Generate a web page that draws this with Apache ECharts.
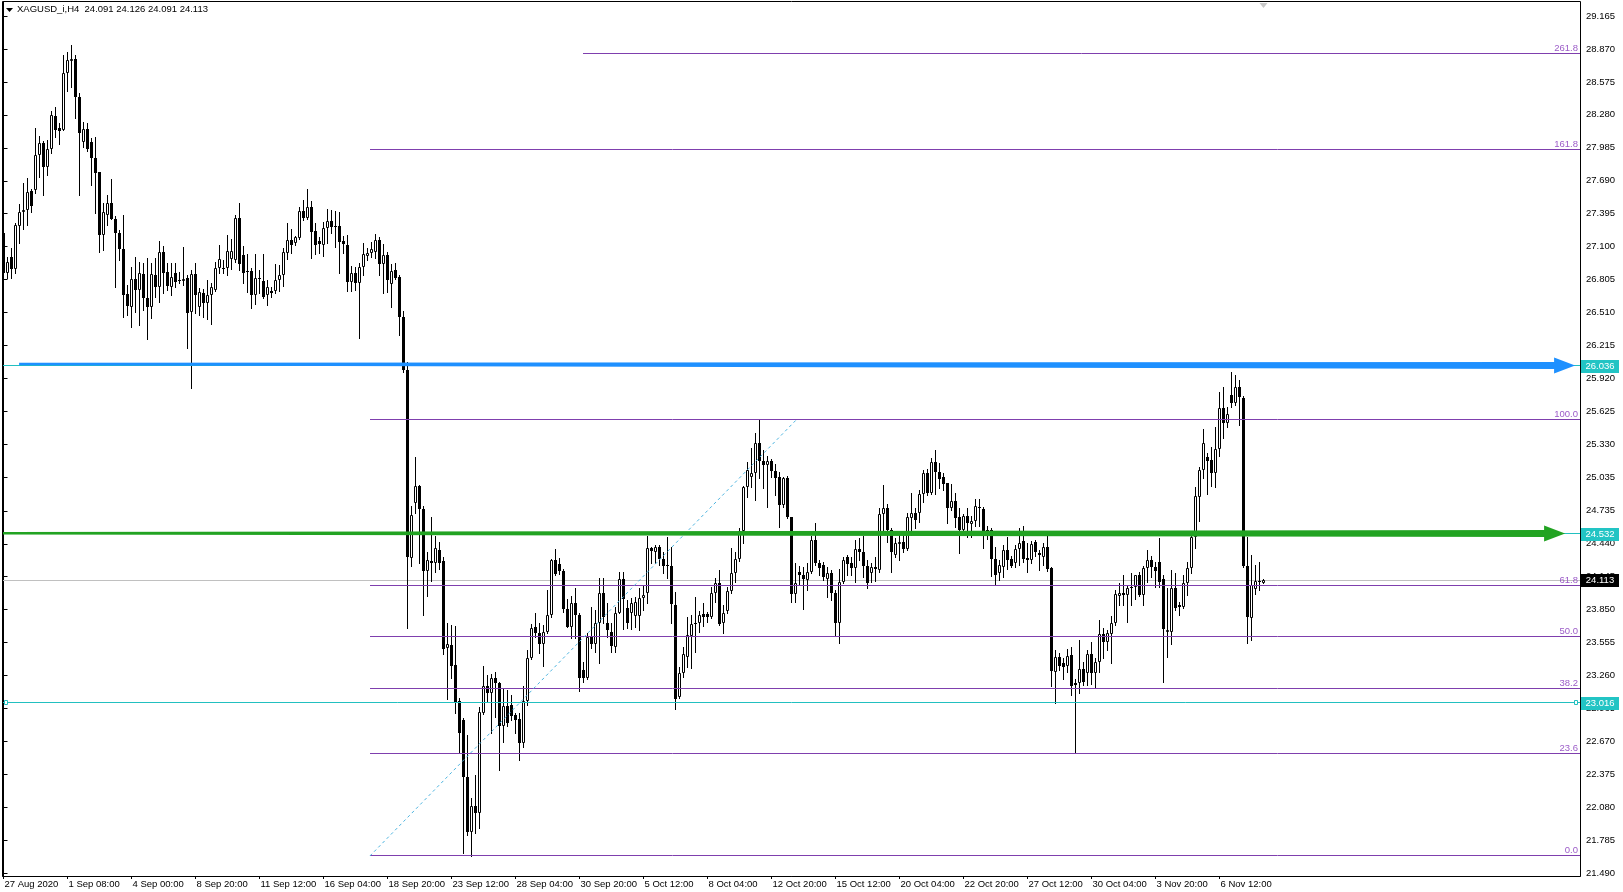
<!DOCTYPE html>
<html><head><meta charset="utf-8">
<script src="https://cdn.jsdelivr.net/npm/echarts/dist/echarts.min.js"></script>
<style>html,body{margin:0;padding:0;background:#fff;}#c{width:1623px;height:892px;}</style>
</head><body><div id="c"></div>
<script>
// ---------------- DATA ----------------
const headerText = 'XAGUSD_i,H4  24.091 24.126 24.091 24.113';

const opens = [
27.22,26.862,27.011,26.897,27.285,27.414,27.429,27.599,27.608,27.921,
28.025,27.811,27.972,28.270,28.163,28.145,28.658,28.765,28.777,28.443,
28.040,28.151,28.040,27.897,27.772,27.205,27.384,27.488,27.345,27.226,
27.076,26.677,26.557,26.808,26.712,26.853,26.644,26.557,26.847,26.742,
27.056,26.874,26.742,26.868,26.802,26.796,26.817,26.518,26.853,26.563,
26.689,26.599,26.667,26.712,26.906,26.912,26.906,26.987,26.981,27.354,
27.026,26.876,26.882,26.667,26.823,26.796,26.667,26.703,26.703,26.802,
26.846,27.046,27.160,27.130,27.175,27.422,27.354,27.458,27.243,27.151,
27.115,27.264,27.330,27.279,27.285,27.151,27.115,26.787,26.861,26.772,
26.921,27.017,27.040,27.055,27.160,26.945,27.026,26.766,26.891,26.826,
26.473,25.996,24.310,24.808,24.957,24.749,24.200,24.289,24.265,24.385,
24.289,23.504,23.534,23.355,23.036,22.863,22.349,21.863,22.093,22.033,
22.922,23.167,23.101,23.236,23.197,22.809,22.988,22.997,22.907,22.869,
22.660,23.036,23.415,23.692,23.645,23.543,23.654,23.803,24.295,24.259,
24.200,23.854,23.698,23.913,23.803,23.310,23.236,23.609,23.543,23.728,
23.997,23.728,23.654,23.519,23.823,24.122,23.862,23.817,23.793,23.793,
23.951,23.996,24.399,24.369,24.414,24.301,24.250,24.241,23.892,23.071,
23.280,23.429,23.614,23.734,23.734,23.811,23.811,23.787,24.002,24.086,
23.728,23.841,24.020,24.181,24.301,24.557,24.945,25.035,25.071,25.339,
25.184,25.145,25.184,25.094,25.035,24.787,25.026,24.677,23.990,24.190,
24.160,24.116,24.190,24.474,24.265,24.250,24.122,24.175,24.002,23.734,
24.101,24.325,24.265,24.220,24.390,24.369,24.241,24.181,24.235,24.205,
24.706,24.757,24.563,24.340,24.438,24.459,24.390,24.668,24.712,24.718,
24.885,25.076,24.897,25.175,25.085,25.035,24.981,24.757,24.823,24.677,
24.563,24.689,24.617,24.647,24.766,24.748,24.563,24.563,24.301,24.175,
24.235,24.384,24.301,24.265,24.390,24.468,24.310,24.295,24.459,24.360,
24.324,24.414,24.220,23.295,23.423,23.369,23.346,23.444,23.196,23.196,
23.316,23.286,23.453,23.280,23.384,23.632,23.563,23.632,23.728,23.972,
23.996,23.981,24.041,24.056,24.160,23.981,24.220,24.295,24.229,24.280,
24.121,23.653,23.653,24.041,23.892,23.877,24.086,24.220,24.497,24.861,
25.100,25.214,25.190,25.076,25.285,25.652,25.518,25.772,25.703,25.840,
25.742,24.241,23.772,24.032,24.101,24.091];
const highs = [
27.93,27.011,27.085,27.309,27.482,27.673,27.712,27.614,28.160,28.091,
28.049,28.055,28.318,28.354,28.210,28.816,28.846,28.906,28.816,28.473,
28.219,28.210,28.070,28.079,27.772,27.488,27.563,27.703,27.375,27.250,
27.384,26.757,26.921,27.011,26.966,26.951,26.996,26.957,26.996,27.154,
27.106,26.957,26.951,26.951,26.876,27.095,26.847,26.891,26.951,26.727,
26.718,26.802,26.778,26.966,27.115,26.981,27.205,27.166,27.384,27.488,
27.106,27.034,26.906,27.034,26.891,27.034,26.802,26.736,26.945,26.936,
27.085,27.309,27.255,27.196,27.458,27.518,27.613,27.512,27.309,27.190,
27.324,27.434,27.428,27.422,27.413,27.196,27.205,26.927,26.915,26.951,
27.130,27.085,27.145,27.214,27.184,27.124,27.055,26.945,26.951,26.846,
26.527,26.070,24.778,25.214,24.966,24.778,24.370,24.683,24.510,24.459,
24.325,23.734,23.713,23.704,23.057,22.878,22.728,22.161,22.370,22.982,
23.346,23.266,23.275,23.295,23.206,23.137,23.131,23.087,22.928,22.922,
23.167,23.489,23.722,23.824,23.734,23.713,24.027,24.301,24.391,24.310,
24.212,23.943,23.973,24.042,23.818,23.385,23.639,23.877,23.848,24.131,
24.131,23.907,23.728,23.877,24.190,24.190,23.937,23.951,23.961,24.041,
24.071,24.510,24.414,24.429,24.429,24.369,24.504,24.414,24.011,23.340,
23.519,23.787,23.802,23.966,23.841,23.907,23.832,24.056,24.131,24.205,
23.892,24.056,24.399,24.369,24.578,24.957,25.175,25.294,25.429,25.548,
25.279,25.226,25.196,25.154,25.085,25.035,25.047,24.683,24.265,24.241,
24.235,24.265,24.510,24.623,24.295,24.280,24.235,24.205,24.026,24.211,
24.325,24.340,24.319,24.474,24.489,24.510,24.295,24.265,24.319,24.757,
24.966,24.796,24.578,24.489,24.519,24.539,24.718,24.897,24.757,24.921,
25.100,25.106,25.205,25.279,25.160,25.071,24.987,24.975,24.898,24.757,
24.706,24.757,24.689,24.838,24.838,24.766,24.599,24.578,24.414,24.295,
24.429,24.504,24.330,24.429,24.578,24.599,24.450,24.468,24.474,24.384,
24.450,24.518,24.235,23.489,23.459,23.414,23.495,23.519,23.226,23.578,
23.384,23.489,23.563,23.414,23.757,23.683,23.668,23.793,24.026,24.086,
24.160,24.071,24.175,24.160,24.190,24.241,24.384,24.330,24.280,24.489,
24.160,24.041,24.205,24.175,23.921,24.160,24.280,24.548,24.951,25.124,
25.464,25.250,25.303,25.488,25.801,25.846,25.667,25.981,25.951,25.906,
25.763,24.503,24.339,24.250,24.280,24.126];
const lows = [
26.49,26.817,26.817,26.862,27.136,27.255,27.294,27.414,27.584,27.727,
27.563,27.742,27.942,28.085,28.019,28.140,28.497,28.533,28.249,27.563,
27.996,27.960,27.652,27.405,27.056,27.071,27.294,27.345,26.742,26.981,
26.474,26.489,26.378,26.518,26.399,26.533,26.271,26.459,26.653,26.608,
26.683,26.712,26.668,26.742,26.772,26.757,26.190,25.832,26.503,26.489,
26.468,26.450,26.408,26.706,26.861,26.861,26.846,26.897,26.966,26.891,
26.772,26.697,26.548,26.587,26.682,26.638,26.578,26.652,26.688,26.706,
26.748,26.987,27.040,27.115,27.166,27.339,27.345,26.996,27.034,27.040,
27.017,27.136,27.226,27.094,26.861,27.040,26.706,26.706,26.712,26.280,
26.846,26.981,27.011,26.996,26.846,26.682,26.697,26.563,26.808,26.309,
25.981,23.683,24.241,24.719,24.265,23.803,23.973,24.110,24.191,24.212,
23.453,23.048,23.236,22.922,22.579,21.669,21.833,21.645,21.854,21.893,
22.916,23.027,22.749,22.892,22.415,22.669,22.809,22.863,22.743,22.505,
22.618,22.997,23.406,23.609,23.460,23.346,23.639,23.788,24.161,24.170,
23.833,23.692,23.594,23.594,23.125,23.206,23.227,23.504,23.474,23.370,
23.728,23.609,23.474,23.474,23.817,23.674,23.683,23.674,23.698,23.668,
23.847,23.907,24.265,24.271,24.250,24.175,24.131,23.728,22.960,23.056,
23.250,23.340,23.325,23.474,23.653,23.704,23.743,23.772,23.922,23.713,
23.638,23.817,23.996,24.101,24.289,24.450,24.862,24.945,24.832,25.026,
24.936,24.766,25.035,24.877,24.587,24.772,24.668,23.922,23.922,24.071,
23.853,24.026,24.175,24.250,24.160,24.116,23.966,23.937,23.623,23.555,
24.086,24.160,24.160,24.101,24.295,24.145,24.041,24.101,24.110,24.190,
24.533,24.459,24.190,24.325,24.295,24.369,24.384,24.519,24.578,24.638,
24.817,24.877,24.886,24.886,24.936,24.921,24.629,24.742,24.587,24.360,
24.533,24.504,24.504,24.599,24.599,24.399,24.480,24.151,24.080,24.116,
24.145,24.211,24.229,24.235,24.250,24.280,24.190,24.271,24.330,24.205,
24.250,24.199,23.167,23.011,23.310,23.226,23.295,23.086,22.570,23.101,
23.175,23.175,23.184,23.155,23.295,23.414,23.489,23.375,23.713,23.892,
23.892,23.743,23.892,23.942,23.972,23.892,24.101,24.146,24.050,24.050,
23.205,23.423,23.543,23.847,23.802,23.862,23.981,24.175,24.399,24.647,
25.026,24.885,24.957,24.951,25.226,25.384,25.488,25.667,25.682,25.503,
24.235,23.555,23.578,23.990,24.026,24.091];
const closes = [
26.86,26.966,26.897,27.294,27.414,27.429,27.587,27.464,27.921,28.025,
27.811,27.972,28.279,28.145,28.139,28.652,28.771,28.777,28.443,28.121,
28.151,27.972,27.891,27.763,27.205,27.414,27.488,27.345,27.220,27.076,
26.668,26.569,26.808,26.712,26.862,26.638,26.563,26.853,26.736,27.056,
26.868,26.748,26.832,26.787,26.796,26.808,26.509,26.853,26.668,26.698,
26.599,26.667,26.736,26.906,26.987,26.897,27.061,27.061,27.354,26.945,
26.861,26.885,26.667,26.817,26.808,26.652,26.742,26.682,26.802,26.846,
27.055,27.160,27.115,27.190,27.422,27.354,27.458,27.234,27.115,27.124,
27.264,27.330,27.279,27.285,27.145,27.121,26.787,26.861,26.778,26.921,
27.034,27.040,27.076,27.160,26.945,27.026,26.802,26.885,26.817,26.473,
25.996,24.325,24.698,24.957,24.749,24.200,24.295,24.265,24.400,24.271,
23.495,23.543,23.346,23.018,22.743,22.349,21.863,22.093,22.033,22.937,
23.167,23.101,23.236,23.197,22.809,22.988,22.839,22.898,22.863,22.660,
23.036,23.415,23.683,23.639,23.543,23.654,23.803,24.295,24.170,24.200,
23.854,23.698,23.913,23.803,23.236,23.236,23.609,23.543,23.728,23.997,
23.788,23.668,23.525,23.817,24.122,23.942,23.734,23.907,23.922,23.951,
23.981,24.399,24.378,24.414,24.301,24.241,24.241,23.901,23.050,23.280,
23.453,23.623,23.722,23.722,23.802,23.787,23.787,24.002,24.086,23.722,
23.817,24.020,24.181,24.301,24.557,24.945,25.100,25.071,25.339,25.184,
25.145,25.184,25.094,25.026,24.787,25.026,24.677,23.990,24.092,24.160,
24.122,24.190,24.474,24.265,24.220,24.145,24.175,24.002,23.734,24.101,
24.295,24.259,24.220,24.390,24.369,24.241,24.092,24.235,24.211,24.706,
24.757,24.563,24.369,24.450,24.459,24.390,24.677,24.712,24.653,24.885,
25.076,24.897,25.175,25.085,25.017,24.975,24.757,24.823,24.668,24.563,
24.689,24.623,24.647,24.778,24.757,24.510,24.539,24.301,24.160,24.250,
24.384,24.295,24.241,24.390,24.450,24.301,24.295,24.438,24.369,24.339,
24.408,24.211,23.304,23.423,23.346,23.340,23.435,23.167,23.175,23.316,
23.205,23.453,23.280,23.384,23.632,23.563,23.638,23.728,23.990,23.996,
23.981,24.047,24.050,24.160,23.981,24.220,24.295,24.229,24.199,24.101,
23.674,23.668,24.041,23.862,23.877,24.086,24.220,24.503,24.867,25.100,
25.345,25.184,25.076,25.285,25.652,25.518,25.602,25.703,25.840,25.751,
24.241,23.781,24.071,24.110,24.110,24.113];

const xLabelIdx = [0,16,32,48,64,80,96,112,128,144,160,176,192,208,224,240,256,272,288,304];
const xLabelText = ['27 Aug 2020','1 Sep 08:00','4 Sep 00:00','8 Sep 20:00','11 Sep 12:00','16 Sep 04:00',
 '18 Sep 20:00','23 Sep 12:00','28 Sep 04:00','30 Sep 20:00','5 Oct 12:00','8 Oct 04:00','12 Oct 20:00',
 '15 Oct 12:00','20 Oct 04:00','22 Oct 20:00','27 Oct 12:00','30 Oct 04:00','3 Nov 20:00','6 Nov 12:00'];
const yTickValues = [21.490,21.785,22.080,22.375,22.670,22.965,23.260,23.555,23.850,24.145,24.440,24.735,
 25.035,25.330,25.625,25.920,26.215,26.510,26.805,27.100,27.395,27.690,27.985,28.280,28.575,28.870,29.165];

const fibLabels   = ['0.0','23.6','38.2','50.0','61.8','100.0','161.8','261.8'];
const fibPrices   = [21.645,22.564,23.143,23.608,24.065,25.557,27.974,28.831];
const fibStartIdx = [91.6,91.6,91.6,91.6,91.6,91.6,91.6,144.8];
const fibAnchorIdx = [91.6,198.4];
const fibAnchorPrice = [21.645,25.557];

const hlinePrices = [26.036,24.532,23.016];
const bidPrice = 24.113;

const arrowStartIdx = [3.9,-1];
const arrowStartPrice = [26.05,24.535];
const arrowEndIdx = [392.9,390.4];
const arrowEndPrice = [26.036,24.532];
const arrowColors = ['#1e90ff','#22a322'];

const badgePrices = [26.036,24.532,24.113,23.016];
const badgeColors = ['#22c4c4','#22c4c4','#000000','#22c4c4'];

// ---------------- CHART ----------------
const FONT = '9.5px "Liberation Sans", Arial, sans-serif';
const FIB_COLOR = '#7f3fae';
const FIB_TEXT = '#9c5cc8';
const CYAN = '#22c0c0';
const X_MIN = -0.125, X_MAX = 394.125;
const Y_MIN = 21.4658, Y_MAX = 29.2903;
const crisp = v => Math.round(v - 0.5) + 0.5;

const candleData = opens.map((o, i) => [i, o, highs[i], lows[i], closes[i]]);

function renderCandle(params, api) {
  const i = api.value(0), o = api.value(1), h = api.value(2), l = api.value(3), c = api.value(4);
  const pO = api.coord([i, o]), pC = api.coord([i, c]), pH = api.coord([i, h]), pL = api.coord([i, l]);
  const x = crisp(pO[0]);
  const yH = Math.round(pH[1]), yL = Math.round(pL[1]);
  const yT = Math.round(Math.min(pO[1], pC[1])), yB = Math.round(Math.max(pO[1], pC[1]));
  const ch = [{type:'line', shape:{x1:x, y1:yH, x2:x, y2:yL + 1}, style:{stroke:'#000', lineWidth:1}}];
  if (c >= o) {
    if (yB - yT < 2) ch.push({type:'line', shape:{x1:x - 1.5, y1:yT + 0.5, x2:x + 1.5, y2:yT + 0.5}, style:{stroke:'#000', lineWidth:1}});
    else ch.push({type:'rect', shape:{x:x - 1, y:yT + 0.5, width:2, height:yB - yT - 1}, style:{fill:'#fff', stroke:'#000', lineWidth:1}});
  } else {
    ch.push({type:'rect', shape:{x:x - 1.5, y:yT, width:3, height:Math.max(1, yB - yT)}, style:{fill:'#000'}});
  }
  return {type:'group', children:ch};
}

function renderFib(params, api) {
  const k = params.dataIndex, cs = params.coordSys;
  const a = api.coord([fibStartIdx[k], fibPrices[k]]);
  const y = crisp(a[1]), xr = cs.x + cs.width;
  return {type:'group', children:[
    {type:'line', shape:{x1:Math.round(a[0]), y1:y, x2:xr, y2:y}, style:{stroke:FIB_COLOR, lineWidth:1}},
    {type:'text', style:{text:fibLabels[k], x:xr - 2, y:y - 0.5, align:'right', verticalAlign:'bottom',
      textAlign:'right', textVerticalAlign:'bottom', font:FONT, fill:FIB_TEXT}}
  ]};
}

function renderDiag(params, api) {
  const a = api.coord([fibAnchorIdx[0], fibAnchorPrice[0]]);
  const b = api.coord([fibAnchorIdx[1], fibAnchorPrice[1]]);
  return {type:'line', shape:{x1:a[0], y1:a[1], x2:b[0], y2:b[1]},
    style:{stroke:'#4cb4e0', lineWidth:1, lineDash:[3,3]}};
}

function renderHline(params, api) {
  const cs = params.coordSys;
  const p = api.value(1), kind = api.value(2);
  const y = crisp(api.coord([0, p])[1]);
  const col = kind === 1 ? '#c0c0c0' : CYAN;
  const ch = [{type:'line', shape:{x1:cs.x, y1:y, x2:cs.x + cs.width, y2:y}, style:{stroke:col, lineWidth:1}}];
  if (kind === 2) {
    ch.push({type:'rect', shape:{x:cs.x + 1.5, y:y - 2, width:3, height:4}, style:{fill:'#fff', stroke:CYAN, lineWidth:1}});
    ch.push({type:'rect', shape:{x:cs.x + cs.width - 5.5, y:y - 2, width:3, height:4}, style:{fill:'#fff', stroke:CYAN, lineWidth:1}});
  }
  return {type:'group', children:ch};
}

function renderArrow(params, api) {
  const k = params.dataIndex;
  const a = api.coord([arrowStartIdx[k], arrowStartPrice[k]]);
  const b = api.coord([arrowEndIdx[k], arrowEndPrice[k]]);
  const dx = b[0] - a[0], dy = b[1] - a[1], len = Math.hypot(dx, dy);
  const ux = dx / len, uy = dy / len, nx = -uy, ny = ux;
  const t0 = 1.2, t1 = 3.6, hl = 21, hh = 8;
  const bx = b[0] - ux * hl, by = b[1] - uy * hl;
  const pts = [
    [a[0] + nx * t0, a[1] + ny * t0], [bx + nx * t1, by + ny * t1], [bx + nx * hh, by + ny * hh],
    [b[0], b[1]], [bx - nx * hh, by - ny * hh], [bx - nx * t1, by - ny * t1], [a[0] - nx * t0, a[1] - ny * t0]
  ];
  return {type:'polygon', shape:{points:pts}, style:{fill:arrowColors[k]}};
}

function renderBadge(params, api) {
  const k = params.dataIndex, cs = params.coordSys;
  const y = Math.round(api.coord([0, badgePrices[k]])[1]);
  const x0 = cs.x + cs.width + 1;
  return {type:'group', children:[
    {type:'rect', shape:{x:x0, y:y - 6, width:38, height:13}, style:{fill:badgeColors[k]}},
    {type:'text', style:{text:badgePrices[k].toFixed(3), x:x0 + 19, y:y + 0.5, align:'center', verticalAlign:'middle',
      textAlign:'center', textVerticalAlign:'middle', font:FONT, fill:'#fff'}}
  ]};
}

const chart = echarts.init(document.getElementById('c'), null, {renderer:'canvas', devicePixelRatio:1});
chart.setOption({
  animation:false,
  backgroundColor:'#ffffff',
  grid:{left:3, top:2, right:43, bottom:16, containLabel:false, outerBoundsMode:'none', show:false},
  xAxis:{
    type:'value', min:X_MIN, max:X_MAX,
    axisLine:{show:true, lineStyle:{color:'#000', width:1}},
    axisTick:{show:true, length:3, customValues:xLabelIdx, lineStyle:{color:'#000'}},
    axisLabel:{show:true, customValues:xLabelIdx, align:'left', margin:3, padding:[0,0,0,1],
      color:'#000', fontFamily:'"Liberation Sans", Arial, sans-serif', fontSize:9.5,
      formatter:v => { const j = xLabelIdx.indexOf(Math.round(v)); return j >= 0 ? xLabelText[j] : ''; }},
    splitLine:{show:false}
  },
  yAxis:{
    type:'value', position:'right', min:Y_MIN, max:Y_MAX, scale:true,
    axisLine:{show:true, lineStyle:{color:'#000', width:1}},
    axisTick:{show:true, length:4, customValues:yTickValues, lineStyle:{color:'#000'}},
    axisLabel:{show:true, customValues:yTickValues, margin:6, color:'#000',
      fontFamily:'"Liberation Sans", Arial, sans-serif', fontSize:9.5, formatter:v => v.toFixed(3)},
    splitLine:{show:false}
  },
  series:[
    {type:'custom', name:'bid', z:1, silent:true, renderItem:renderHline, data:[[0, bidPrice, 1]]},
    {type:'custom', name:'candles', z:2, silent:true, clip:true, renderItem:renderCandle, data:candleData},
    {type:'custom', name:'hlines', z:3, silent:true, renderItem:renderHline,
      data:hlinePrices.map((p, k) => [0, p, k === 2 ? 2 : 0])},
    {type:'custom', name:'fib', z:4, silent:true, renderItem:renderFib, data:fibPrices.map((p, k) => [fibStartIdx[k], p])},
    {type:'custom', name:'fibDiag', z:4, silent:true, renderItem:renderDiag, data:[[fibAnchorIdx[0], fibAnchorPrice[0]]]},
    {type:'custom', name:'arrows', z:5, silent:true, clip:true, renderItem:renderArrow,
      data:arrowEndPrice.map((p, k) => [arrowEndIdx[k], p])},
    {type:'custom', name:'badges', z:6, silent:true, clip:false, renderItem:renderBadge,
      data:badgePrices.map(p => [0, p])}
  ],
  graphic:[
    {type:'rect', silent:true, z:100, shape:{x:2.5, y:1.5, width:1578, height:875}, style:{fill:null, stroke:'#000', lineWidth:1}},
    {type:'polygon', silent:true, z:100, shape:{points:[[6,8],[13,8],[9.5,12]]}, style:{fill:'#000'}},
    {type:'text', silent:true, z:100, x:17, y:4, style:{text:headerText, font:FONT, fill:'#000', textVerticalAlign:'top', verticalAlign:'top'}}
  ]
});
// chart-shift marker placed at the last bar
const lastPx = chart.convertToPixel({gridIndex:0}, [opens.length - 1, Y_MAX]);
chart.setOption({graphic:[
  {type:'rect', silent:true, z:100, shape:{x:2.5, y:1.5, width:1578, height:875}, style:{fill:null, stroke:'#000', lineWidth:1}},
  {type:'polygon', silent:true, z:100, shape:{points:[[6,8],[13,8],[9.5,12]]}, style:{fill:'#000'}},
  {type:'text', silent:true, z:100, x:17, y:4, style:{text:headerText, font:FONT, fill:'#000', textVerticalAlign:'top', verticalAlign:'top'}},
  {type:'polygon', silent:true, z:100, shape:{points:[[lastPx[0]-4, lastPx[1]+1],[lastPx[0]+4, lastPx[1]+1],[lastPx[0], lastPx[1]+6]]}, style:{fill:'#c8c8c8'}}
]});
</script>
</body></html>
